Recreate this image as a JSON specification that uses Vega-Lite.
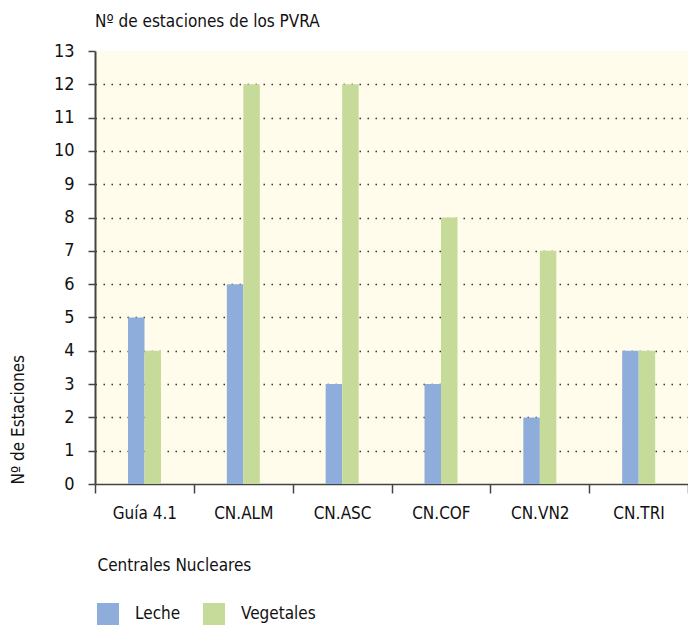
{
  "$schema": "https://vega.github.io/schema/vega-lite/v6.json",
  "autosize": {"type": "none"},
  "padding": {"left": 95, "top": 51, "right": 0, "bottom": 141},
  "width": 593,
  "height": 433,
  "background": "white",
  "config": {
    "font": "DejaVu Sans Condensed, sans-serif",
    "view": {"fill": "#fffcec", "stroke": null}
  },
  "title": {
    "text": "Nº de estaciones de los PVRA",
    "anchor": "start",
    "frame": "group",
    "fontSize": 17,
    "fontWeight": "normal",
    "color": "#111",
    "offset": 11
  },
  "data": {
    "values": [
      {"central": "Guía 4.1", "tipo": "Leche", "n": 5},
      {"central": "Guía 4.1", "tipo": "Vegetales", "n": 4},
      {"central": "CN.ALM", "tipo": "Leche", "n": 6},
      {"central": "CN.ALM", "tipo": "Vegetales", "n": 12},
      {"central": "CN.ASC", "tipo": "Leche", "n": 3},
      {"central": "CN.ASC", "tipo": "Vegetales", "n": 12},
      {"central": "CN.COF", "tipo": "Leche", "n": 3},
      {"central": "CN.COF", "tipo": "Vegetales", "n": 8},
      {"central": "CN.VN2", "tipo": "Leche", "n": 2},
      {"central": "CN.VN2", "tipo": "Vegetales", "n": 7},
      {"central": "CN.TRI", "tipo": "Leche", "n": 4},
      {"central": "CN.TRI", "tipo": "Vegetales", "n": 4}
    ]
  },
  "mark": {"type": "bar"},
  "encoding": {
    "x": {
      "field": "central",
      "type": "nominal",
      "sort": null,
      "scale": {"paddingInner": 0, "paddingOuter": 0},
      "axis": {
        "title": "Centrales Nucleares",
        "titleX": 2,
        "titleY": 81,
        "titleAlign": "left",
        "titleBaseline": "middle",
        "titleFontSize": 17,
        "titleFontWeight": "normal",
        "titleColor": "#111",
        "labelAngle": 0,
        "labelFontSize": 17,
        "labelColor": "#111",
        "labelPadding": 12,
        "tickBand": "extent",
        "tickSize": 9,
        "tickColor": "#444",
        "tickWidth": 1.5,
        "domainColor": "#444",
        "domainWidth": 1.5
      }
    },
    "xOffset": {
      "field": "tipo",
      "type": "nominal",
      "scale": {"range": [33, 66], "paddingInner": 0, "paddingOuter": 0}
    },
    "y": {
      "field": "n",
      "type": "quantitative",
      "scale": {"domain": [0, 13], "nice": false},
      "axis": {
        "values": [0, 1, 2, 3, 4, 5, 6, 7, 8, 9, 10, 11, 12, 13],
        "title": "Nº de Estaciones",
        "titleX": -77,
        "titleY": 433,
        "titleAngle": -90,
        "titleAlign": "left",
        "titleBaseline": "middle",
        "titleFontSize": 17,
        "titleFontWeight": "normal",
        "titleColor": "#111",
        "labelFontSize": 18,
        "labelColor": "#111",
        "labelPadding": 14,
        "tickSize": 7,
        "tickColor": "#444",
        "tickWidth": 1.5,
        "domainColor": "#444",
        "domainWidth": 2,
        "grid": true,
        "gridColor": "#333",
        "gridDash": [1.5, 6.5],
        "gridWidth": 1.5,
        "gridOpacity": {"condition": {"test": "datum.value === 13 || datum.value === 0", "value": 0}, "value": 1}
      }
    },
    "color": {
      "field": "tipo",
      "type": "nominal",
      "scale": {"domain": ["Leche", "Vegetales"], "range": ["#8eaddb", "#c6db9a"]},
      "legend": {
        "title": null,
        "orient": "none",
        "legendX": 2,
        "legendY": 552,
        "direction": "horizontal",
        "symbolType": "square",
        "symbolSize": 484,
        "symbolStrokeWidth": 0,
        "labelFontSize": 17,
        "labelColor": "#111",
        "labelOffset": 16,
        "columnPadding": 22
      }
    }
  }
}
